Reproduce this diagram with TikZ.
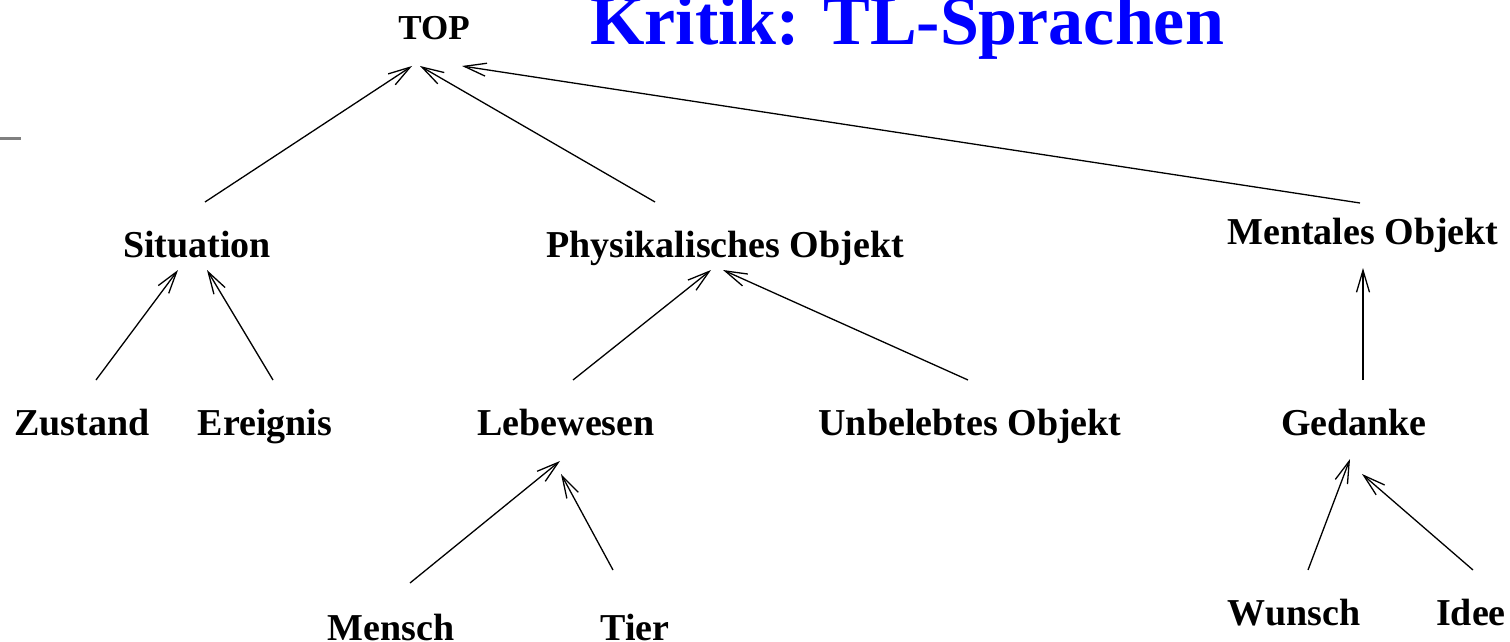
\documentclass[tikz,border=0pt]{standalone}
\usepackage{fontspec}
\setmainfont{Liberation Serif}
\usetikzlibrary{calc,arrows.meta}
\definecolor{titleblue}{RGB}{0,0,255}
\definecolor{markgray}{RGB}{128,128,128}
\tikzset{
  lbl/.style={anchor=base, inner sep=0pt, font=\bfseries\fontsize{19}{22}\selectfont},
  arr/.style={line width=0.65pt, -{Straight Barb[length=11pt,width=6.5pt,line width=0.65pt]}},
}
\begin{document}
\begin{tikzpicture}[x=0.5pt,y=-0.5pt]
\useasboundingbox (0,0) rectangle (1510,642);
% title and margin mark
\node[anchor=base, inner sep=0pt, text=titleblue, font=\bfseries\fontsize{35}{40}\selectfont] (title) at (907,45) {Kritik: TL-Sprachen};
\draw[markgray, line width=1.5pt] (0,139) -- (21,139);
% nodes
\node[lbl, font=\bfseries\fontsize{17.5}{20}\selectfont] (top) at (434,40) {TOP};
\node[lbl] (situation) at (197,257) {Situation};
\node[lbl] (phys) at (725,257) {Physikalisches Objekt};
\node[lbl] (mental) at (1363,244) {Mentales Objekt};
\node[lbl] (zustand) at (82,435) {Zustand};
\node[lbl] (ereignis) at (265,435) {Ereignis};
\node[lbl] (lebewesen) at (566,435) {Lebewesen};
\node[lbl] (unbelebt) at (970,435) {Unbelebtes Objekt};
\node[lbl] (gedanke) at (1354,435) {Gedanke};
\node[lbl] (mensch) at (391,640) {Mensch};
\node[lbl] (tier) at (635,640) {Tier};
\node[lbl] (wunsch) at (1294,625) {Wunsch};
\node[lbl] (idee) at (1471,625) {Idee};
% connectors
\draw[arr] ($(situation.base)+(8,-55)$) -- ($(top.base)+(-22,26)$);
\draw[arr] ($(phys.base)+(-70,-55)$) -- ($(top.base)+(-14,26)$);
\draw[arr] ($(mental.base)+(-3,-41)$) -- ($(top.base)+(28,26)$);
\draw[arr] ($(zustand.base)+(14,-55)$) -- ($(situation.base)+(-19,13)$);
\draw[arr] ($(ereignis.base)+(8,-55)$) -- ($(situation.base)+(10,13)$);
\draw[arr] ($(lebewesen.base)+(7,-55)$) -- ($(phys.base)+(-14,13)$);
\draw[arr] ($(unbelebt.base)+(-2,-55)$) -- ($(phys.base)+(-2,13)$);
\draw[arr] ($(gedanke.base)+(9,-55)$) -- ($(mental.base)+(0,24)$);
\draw[arr] ($(mensch.base)+(19,-57)$) -- ($(lebewesen.base)+(-6,26)$);
\draw[arr] ($(tier.base)+(-22,-70)$) -- ($(lebewesen.base)+(-5,39)$);
\draw[arr] ($(wunsch.base)+(14,-55)$) -- ($(gedanke.base)+(-4,24)$);
\draw[arr] ($(idee.base)+(2,-55)$) -- ($(gedanke.base)+(8,39)$);
\end{tikzpicture}
\end{document}
